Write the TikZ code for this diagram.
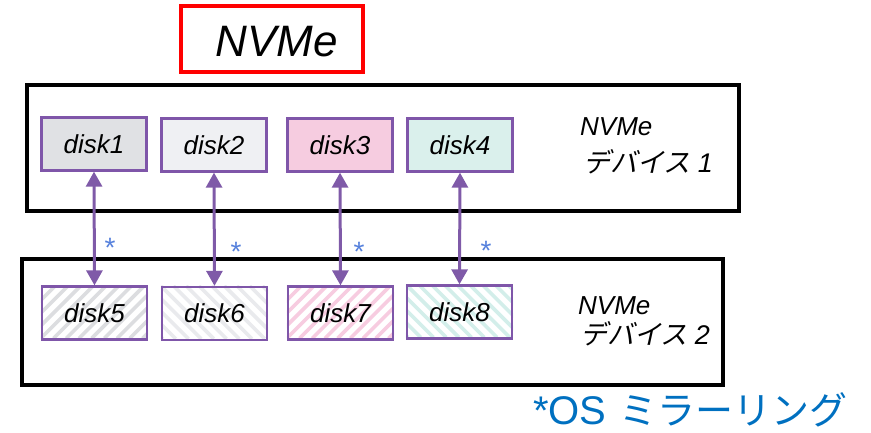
\documentclass[tikz,border=0pt]{standalone}
\usepackage{fontspec}
\setmainfont{Liberation Sans}
\newfontfamily\jpfont{Noto Sans CJK JP}
\newfontfamily\jpslant[FakeSlant=0.22]{Noto Sans CJK JP}
\usetikzlibrary{arrows.meta}

\definecolor{diskborder}{HTML}{7F56A9}
\definecolor{linkcol}{HTML}{7F5AA8}
\definecolor{fillA}{HTML}{E0E1E4}
\definecolor{fillB}{HTML}{EFF0F3}
\definecolor{fillC}{HTML}{F6CCE0}
\definecolor{fillD}{HTML}{DAF0EC}
\definecolor{hatchA}{HTML}{DCDDE0}
\definecolor{hatchB}{HTML}{E9EAED}
\definecolor{hatchC}{HTML}{F7CCE0}
\definecolor{hatchD}{HTML}{D3EEEA}
\definecolor{starcol}{HTML}{5580DC}
\definecolor{notecol}{HTML}{0070C0}
\definecolor{titlered}{HTML}{FF0000}

\tikzset{
  diskbox/.style={draw=diskborder, line width=2.3pt, minimum width=105pt,
    minimum height=53pt, inner sep=0pt, font=\fontsize{26}{26}\selectfont\itshape},
  devbox/.style={draw=black, line width=4pt},
  mirror/.style={linkcol, line width=3pt,
    {Triangle[width=16pt,length=15pt]}-{Triangle[width=16pt,length=15pt]}},
  star/.style={text=starcol, font=\fontsize{28}{28}\selectfont, inner sep=0pt},
  devlabel/.style={anchor=base west, inner sep=0pt, font=\fontsize{26}{26}\selectfont\itshape},
  jplabel/.style={anchor=base west, inner sep=0pt, font=\fontsize{27}{27}\selectfont\itshape},
}

% striped mirror disk: #1 name, #2 centre, #3 stripe colour, #4 direction (+1 = /, -1 = \)
\newcommand\stripeddisk[4]{%
  \node[diskbox, fill=white] (#1) at (#2) {};
  \begin{scope}
    \clip (#1.south west) rectangle (#1.north east);
    \foreach \k in {-8,...,18} {
      \ifnum#4>0
        \draw[#3, line width=3.6pt] ([xshift=\k*12.7pt]#1.north west) ++(0,53) -- ++(53,-53);
      \else
        \draw[#3, line width=3.6pt] ([xshift=\k*12.7pt]#1.north west) -- ++(53,53);
      \fi
    }
  \end{scope}
}

\begin{document}
\begin{tikzpicture}[x=1pt,y=-1pt]
  \useasboundingbox (0,0) rectangle (871,433);

  % title
  \node[draw=titlered, line width=4pt, minimum width=182pt, minimum height=66pt,
        inner sep=0pt] (title) at (272,39) {};
  \node[font=\fontsize{44}{44}\selectfont\itshape, inner sep=0pt] (titletext)
        at (277,42) {NVMe};

  % the two devices
  \draw[devbox] (27,85) rectangle (739,211);
  \draw[devbox] (22,259) rectangle (723,385);

  % disks of device 1
  \node[diskbox, fill=fillA] (d1) at (94,144) {disk1};
  \node[diskbox, fill=fillB] (d2) at (214,145) {disk2};
  \node[diskbox, fill=fillC] (d3) at (340,145) {disk3};
  \node[diskbox, fill=fillD] (d4) at (460,145) {disk4};

  % disks of device 2 (striped mirrors)
  \stripeddisk{d5}{94.5,313}{hatchA}{1}
  \stripeddisk{d6}{214.5,313.5}{hatchB}{-1}
  \stripeddisk{d7}{340.5,313}{hatchC}{1}
  \stripeddisk{d8}{459.5,312}{hatchD}{-1}
  \node[diskbox] (t5) at (d5) {disk5};
  \node[diskbox] (t6) at (d6) {disk6};
  \node[diskbox] (t7) at (d7) {disk7};
  \node[diskbox] (t8) at (d8) {disk8};

  % mirroring links
  \draw[mirror] (d1.south) -- (d5.north);
  \draw[mirror] (d2.south) -- (d6.north);
  \draw[mirror] (d3.south) -- (d7.north);
  \draw[mirror] (d4.south) -- (d8.north);

  \node[star] (s1) at (110,248) {*};
  \node[star] (s2) at (236,252) {*};
  \node[star] (s3) at (359,252) {*};
  \node[star] (s4) at (486,251) {*};

  % device labels
  \node[devlabel] (l1a) at (580,136) {NVMe};
  \node[jplabel] (l1b) at (583,173) {{\jpslant デバイス} 1};
  \node[devlabel] (l2a) at (578,314) {NVMe};
  \node[jplabel] (l2b) at (580,344) {{\jpslant デバイス} 2};

  % footnote
  \node[anchor=base west, inner sep=0pt, text=notecol,
        font=\fontsize{40}{40}\selectfont] (note) at (533,424)
        {*OS\hspace{13pt}{\fontsize{38}{38}\selectfont\jpfont ミラーリング}};
\end{tikzpicture}
\end{document}
